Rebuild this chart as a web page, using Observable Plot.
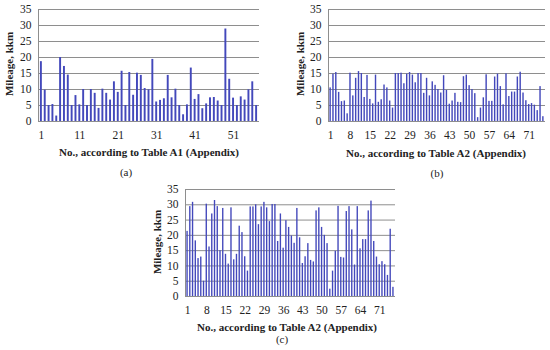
<!DOCTYPE html>
<html>
<head>
<meta charset="utf-8">
<script src="https://cdn.jsdelivr.net/npm/d3@7"></script>
<script src="https://cdn.jsdelivr.net/npm/@observablehq/plot@0.6"></script>
<style>
  html, body { margin: 0; padding: 0; background: #fff; }
  #root { position: relative; width: 550px; height: 350px; overflow: hidden; font-family: "Liberation Serif", "Times New Roman", serif; color: #222; }
  .panel { position: absolute; }
  .lbl { position: absolute; white-space: nowrap; font-weight: bold; font-size: 11px; transform: translate(-50%, -50%); }
  .ylbl { position: absolute; white-space: nowrap; font-weight: bold; font-size: 11px; transform: translate(-50%, -50%) rotate(-90deg); }
  .cap { position: absolute; white-space: nowrap; font-size: 11px; transform: translate(-50%, -50%); }
</style>
</head>
<body>
<div id="root"></div>
<script>
// ---- Data ----
const mileageA = [18.7, 9.8, 5, 5.3, 1.7, 20, 17.2, 14.5, 5, 8.1,
  5.2, 10, 5, 10, 8.8, 4.1, 10.1, 8.8, 6.7, 12.4,
  9.1, 15.7, 5, 15.3, 8.2, 15.1, 14.4, 10.3, 9.9, 19.4,
  6.1, 6.6, 7.1, 14.4, 7.4, 10.1, 5, 2.1, 5.2, 16.7,
  6.9, 8.4, 4, 5.5, 7.4, 7.5, 6.4, 5, 28.9, 13.2,
  7.3, 5, 7.7, 6.7, 9.9, 12.4, 5];
const mileageB = [10.5, 14.8, 15.3, 9.1, 6.2, 6.4, 2.4, 15.1, 8, 13.5,
  15.6, 15, 7.5, 14.4, 6.9, 5.5, 14.5, 6, 6.8, 11.4,
  10.5, 6.4, 4.2, 15, 15, 15.1, 11.8, 14.8, 15.3, 14.5,
  12.1, 15, 15, 8.8, 13.5, 8, 12.4, 11.3, 10, 8.9,
  14.3, 9.7, 5.4, 6.4, 8.8, 6, 5.9, 14, 14.5, 11.2,
  10, 8.7, 1.2, 4.2, 7.4, 14.6, 6.3, 6.3, 13.9, 14.8,
  10.9, 5.2, 14.9, 7.8, 9.2, 9.2, 13.9, 15.4, 8.9, 6.5,
  5.3, 5.6, 5.1, 3.4, 10.9, 1.5];
const mileageC = [21.3, 29.4, 30.8, 18.2, 12.4, 12.9, 5, 30.2, 16.2, 27,
  31.4, 29.4, 15, 28.8, 13.8, 10.6, 29, 12, 13.8, 23,
  20.9, 13, 8.3, 29.3, 29.3, 30, 23.5, 29.3, 30.8, 29,
  24.5, 30.1, 30.1, 18, 27, 15.8, 24.8, 22.6, 19.8, 17.4,
  28.8, 19.2, 10.8, 13, 17.3, 11.8, 11.3, 28, 29, 22.6,
  20, 17.3, 2.4, 8.3, 14.8, 29.5, 12.8, 12.6, 27.8, 29.4,
  21.8, 10.3, 29.4, 15.6, 18.6, 18.6, 28, 31.2, 18, 12.9,
  10.4, 11.4, 10.4, 6.9, 22, 3];
const ticksA = [1, 11, 21, 31, 41, 51];
const ticksBC = [1, 8, 15, 22, 29, 36, 43, 50, 57, 64, 71];
const yTicks = [0, 5, 10, 15, 20, 25, 30, 35];
const yTitle = "Mileage, kkm";
const titleA = "No., according to Table A1 (Appendix)";
const titleB = "No., according to Table A2 (Appendix)";
const titleC = "No., according to Table A2 (Appendix)";

// ---- Drawing ----
const root = document.getElementById("root");
const barColor = "#4348bb";
const gridColor = "#8e8e8e";

function panel(values, xt, o) {
  const rows = values.map((v, i) => ({n: i + 1, v}));
  const svg = Plot.plot({
    width: o.w, height: o.h,
    marginLeft: o.ml, marginRight: o.mr, marginTop: o.mt, marginBottom: o.mb,
    style: {fontFamily: "Liberation Serif, serif", fontSize: "11.5px", color: "#222", background: "transparent"},
    x: {type: "band", domain: rows.map(d => d.n), padding: 0.5, align: 0.5},
    y: {domain: [0, 35]},
    marks: [
      Plot.gridY(yTicks, {stroke: gridColor, strokeOpacity: 1, strokeWidth: 1}),
      Plot.barY(rows, {x: "n", y: "v", fill: barColor}),
      Plot.frame({anchor: "left", stroke: gridColor}),
      Plot.axisX(xt, {tickSize: 0, tickPadding: 9, label: null, fontSize: 11.5}),
      Plot.axisY(yTicks, {tickSize: 0, tickPadding: 7, label: null, fontSize: 11.5})
    ]
  });
  const d = document.createElement("div");
  d.className = "panel";
  d.style.left = o.x + "px"; d.style.top = o.y + "px";
  d.appendChild(svg);
  root.appendChild(d);
}

function text(cls, s, x, y) {
  const d = document.createElement("div");
  d.className = cls; d.textContent = s;
  d.style.left = x + "px"; d.style.top = y + "px";
  root.appendChild(d);
}

panel(mileageA, ticksA, {x: 0, y: 0, w: 275, h: 175, ml: 38, mr: 16, mt: 9, mb: 54});
panel(mileageB, ticksBC, {x: 275, y: 0, w: 275, h: 175, ml: 53, mr: 5, mt: 9, mb: 54});
panel(mileageC, ticksBC, {x: 140, y: 175, w: 280, h: 175, ml: 45, mr: 25, mt: 14, mb: 54});

text("ylbl", yTitle, 9, 64);
text("lbl", titleA, 149, 152);
text("cap", "(a)", 126, 172);

text("ylbl", yTitle, 300, 64);
text("lbl", titleB, 436, 153);
text("cap", "(b)", 437, 173);

text("ylbl", yTitle, 157, 242);
text("lbl", titleC, 287, 327);
text("cap", "(c)", 282, 339);
</script>
</body>
</html>
